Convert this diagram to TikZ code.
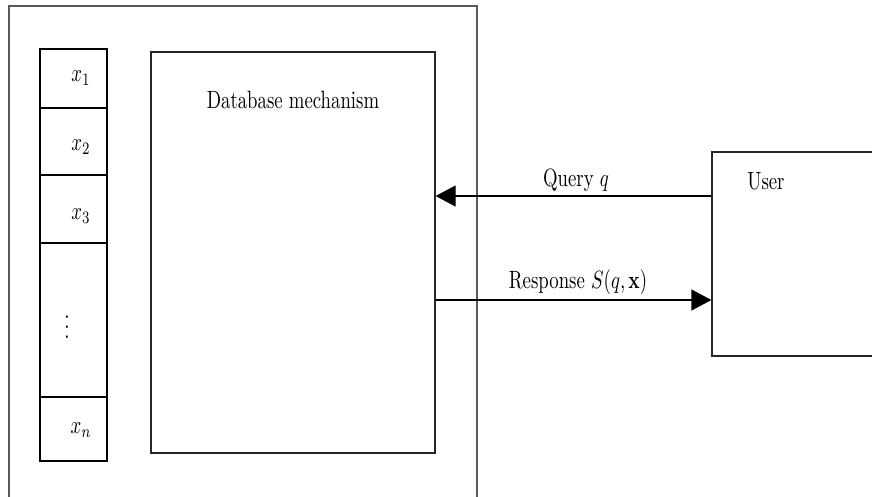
\documentclass[tikz,border=0pt]{standalone}
\usepackage{graphicx}
\usetikzlibrary{arrows.meta,fit}
\newcommand\cnd[1]{\scalebox{0.75}[1]{#1}}
\begin{document}
\begin{tikzpicture}[x=0.4pt,y=-0.4pt,
  box/.style={draw=black!85,line width=0.5pt,inner sep=0pt},
  cell/.style={draw=black,line width=0.65pt,inner sep=0pt},
  outer/.style={draw=black!65,line width=0.55pt,inner sep=0pt},
  lbl/.style={inner sep=0pt,text=black},
  arr/.style={draw=black,line width=0.5pt,-{Triangle[length=8pt,width=8.4pt]}}]
\useasboundingbox (0,0) rectangle (872,496);
\clip (0,0) rectangle (872,496);
% corner coordinates
\coordinate (onw) at (9,6);   \coordinate (ose) at (477,520);
\coordinate (dnw) at (151,52); \coordinate (dse) at (435,453);
\coordinate (unw) at (712,152); \coordinate (use) at (900,356);
\coordinate (c1nw) at (40,49);  \coordinate (c1se) at (107,108);
\coordinate (c2nw) at (40,108); \coordinate (c2se) at (107,175);
\coordinate (c3nw) at (40,175); \coordinate (c3se) at (107,243);
\coordinate (c4nw) at (40,243); \coordinate (c4se) at (107,397);
\coordinate (c5nw) at (40,397); \coordinate (c5se) at (107,461);
% boxes
\node[outer,fit=(onw)(ose)] (outerbox) {};
\node[box,fit=(dnw)(dse)] (db) {};
\node[box,fit=(unw)(use)] (user) {};
\node[cell,fit=(c1nw)(c1se)] (c1) {};
\node[cell,fit=(c2nw)(c2se)] (c2) {};
\node[cell,fit=(c3nw)(c3se)] (c3) {};
\node[cell,fit=(c4nw)(c4se)] (c4) {};
\node[cell,fit=(c5nw)(c5se)] (c5) {};
% cell labels
\node[lbl] (l1) at (81,78) {\cnd{$x_1$}};
\node[lbl] (l2) at (81,147) {\cnd{$x_2$}};
\node[lbl] (l3) at (81,216) {\cnd{$x_3$}};
\node[lbl] (l4) at (67,320) {\cnd{$\vdots$}};
\node[lbl] (l5) at (81,430) {\cnd{$x_n$}};
% texts
\node[lbl] (dbt) at (293,100) {\cnd{Database mechanism}};
\node[lbl] (ut) at (766,181) {\cnd{User}};
% connectors
\coordinate (qy) at (0,196);
\coordinate (ry) at (0,300);
\draw[arr] (user.west |- qy) -- (db.east |- qy);
\draw[arr] (db.east |- ry) -- (user.west |- ry);
\node[lbl] (qt) at (576,180) {\cnd{Query $q$}};
\node[lbl] (rt) at (578,282) {\cnd{Response $S(q,\mathbf{x})$}};
\end{tikzpicture}
\end{document}
